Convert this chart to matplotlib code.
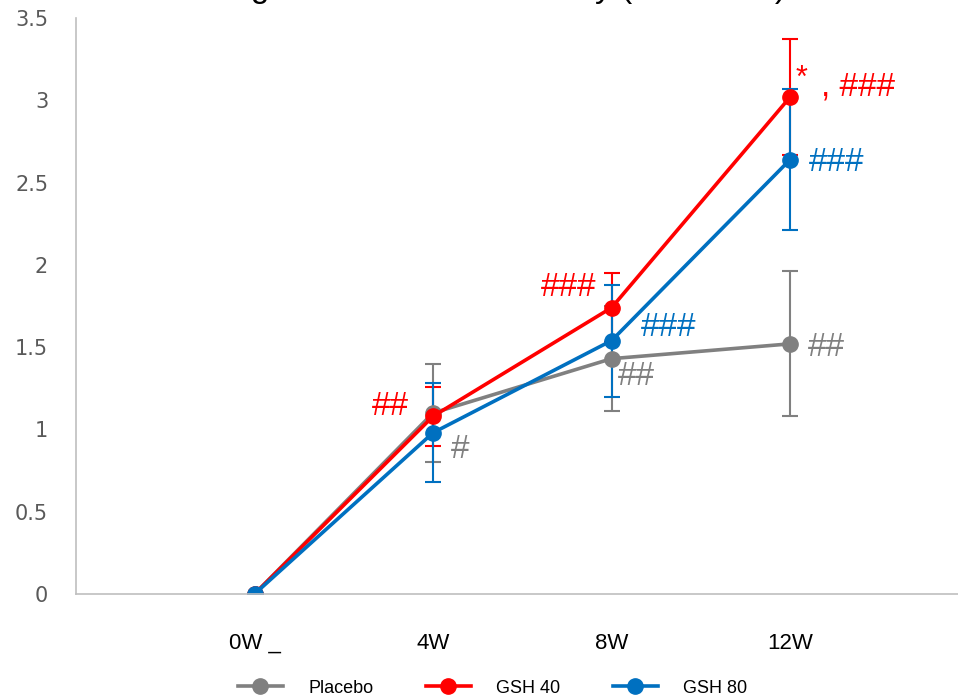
import matplotlib.pyplot as plt
from matplotlib.lines import Line2D

# data
weeks = ["0W _", "4W", "8W", "12W"]
placebo = [0, 1.10, 1.43, 1.52]
placebo_err = [0, 0.30, 0.32, 0.44]
gsh40 = [0, 1.08, 1.74, 3.02]
gsh40_err = [0, 0.18, 0.21, 0.35]
gsh80 = [0, 0.98, 1.54, 2.64]
gsh80_err = [0, 0.30, 0.34, 0.43]

series = [("Placebo", placebo, placebo_err, "#808080"),
          ("GSH 40", gsh40, gsh40_err, "#FF0000"),
          ("GSH 80", gsh80, gsh80_err, "#0070C0")]

# significance marks (x, y, text, colour)
marks = [(0.76, 1.14, "##", "#FF0000"),
         (1.15, 0.88, "#", "#808080"),
         (1.76, 1.86, "###", "#FF0000"),
         (2.32, 1.62, "###", "#0070C0"),
         (2.14, 1.32, "##", "#808080"),
         (3.20, 1.50, "##", "#808080"),
         (3.26, 2.62, "###", "#0070C0")]

fig = plt.figure(figsize=(9.58, 6.99), dpi=100)
ax = fig.add_axes([76/958, 105/699, 882/958, 576/699])

x = list(range(len(weeks)))
handles = []
for name, vals, err, col in series:
    ax.errorbar(x, vals, yerr=err, color=col, lw=2.6, marker="o", ms=11,
                elinewidth=1.5, capsize=6, capthick=1.5)
    handles.append(Line2D([], [], color=col, lw=2.6, marker="o", ms=11, label=name))

hfont = "Liberation Sans"
for mx, my, txt, col in marks:
    ax.text(mx, my, txt, color=col, fontsize=24, ha="center", va="center", family=hfont)
ax.text(3.03, 3.13, "*", color="#FF0000", fontsize=22, ha="left", va="center", family=hfont)
ax.text(3.17, 3.08, ", ###", color="#FF0000", fontsize=24, ha="left", va="center",
        family=hfont)

ax.set_xlim(-1.0, 3.94)
ax.set_ylim(0, 3.5)
ax.set_xticks(x)
ax.set_xticklabels(weeks, fontsize=16, family="Liberation Sans")
ax.set_yticks([0, 0.5, 1, 1.5, 2, 2.5, 3, 3.5])
ax.set_yticklabels(["0", "0.5", "1", "1.5", "2", "2.5", "3", "3.5"], fontsize=15,
                   color="#595959")
ax.tick_params(length=0, pad=20, axis="y")
ax.tick_params(length=0, pad=28, axis="x")
for s in ["top", "right"]:
    ax.spines[s].set_visible(False)
for s in ["left", "bottom"]:
    ax.spines[s].set_color("#BFBFBF")
    ax.spines[s].set_linewidth(1.2)

fig.text(0.50, 1.004, "Change in Skin Tone Intensity (ΔL* value)", fontsize=24,
         ha="center", va="baseline", family="Liberation Sans")

fig.legend(handles=handles, loc="lower center", bbox_to_anchor=(0.514, -0.02), ncol=3,
           frameon=False, handlelength=2.5, columnspacing=2.9, handletextpad=1.4,
           prop={"family": "Liberation Sans", "size": 13})

fig.savefig("out.png", dpi=100)
